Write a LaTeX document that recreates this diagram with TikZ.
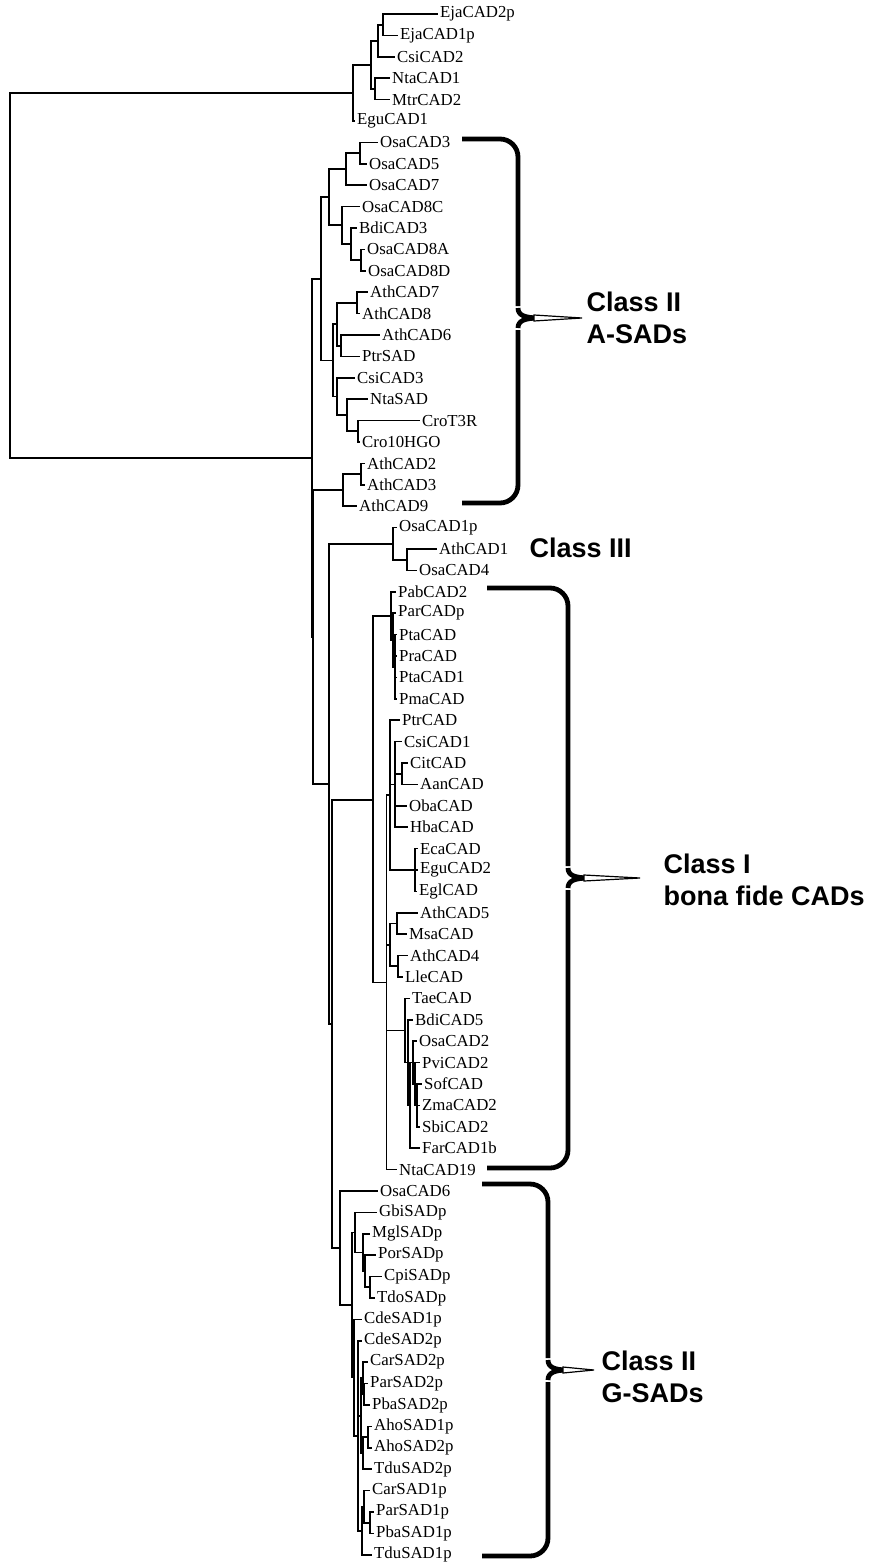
\documentclass[tikz,border=0pt]{standalone}
\usepackage{fontspec}
\setmainfont{Liberation Serif}
\newfontfamily\cladefont{Liberation Sans}
\usetikzlibrary{positioning,calc}

\begin{document}
\begin{tikzpicture}[x=1pt, y=-21.4pt,
    leaf/.style={anchor=west, inner sep=2pt, font=\fontsize{16.8}{18}\selectfont},
    br/.style={line width=1.7pt},
    clade/.style={anchor=west, align=left, font=\cladefont\bfseries\fontsize{27}{32}\selectfont},
    brace/.style={line width=4.8pt},
    tip/.style={fill=white, draw=black, line width=1.2pt}
  ]
  \begin{scope}[y=-1pt, yshift=-7.4pt]
    \useasboundingbox (0,0) rectangle (882,1565);
  \end{scope}

  % leaves
  \node[leaf] (l1) at (438,1) {EjaCAD2p};
  \node[leaf] (l2) at (398,2) {EjaCAD1p};
  \node[leaf] (l3) at (395,3) {CsiCAD2};
  \node[leaf] (l4) at (390,4) {NtaCAD1};
  \node[leaf] (l5) at (390,5) {MtrCAD2};
  \node[leaf] (l6) at (355,6) {EguCAD1};
  \node[leaf] (l7) at (378,7) {OsaCAD3};
  \node[leaf] (l8) at (367,8) {OsaCAD5};
  \node[leaf] (l9) at (367,9) {OsaCAD7};
  \node[leaf] (l10) at (360,10) {OsaCAD8C};
  \node[leaf] (l11) at (357,11) {BdiCAD3};
  \node[leaf] (l12) at (365,12) {OsaCAD8A};
  \node[leaf] (l13) at (366,13) {OsaCAD8D};
  \node[leaf] (l14) at (368,14) {AthCAD7};
  \node[leaf] (l15) at (360,15) {AthCAD8};
  \node[leaf] (l16) at (380,16) {AthCAD6};
  \node[leaf] (l17) at (360,17) {PtrSAD};
  \node[leaf] (l18) at (355,18) {CsiCAD3};
  \node[leaf] (l19) at (368,19) {NtaSAD};
  \node[leaf] (l20) at (420,20) {CroT3R};
  \node[leaf] (l21) at (360,21) {Cro10HGO};
  \node[leaf] (l22) at (365,22) {AthCAD2};
  \node[leaf] (l23) at (365,23) {AthCAD3};
  \node[leaf] (l24) at (357,24) {AthCAD9};
  \node[leaf] (l25) at (397,25) {OsaCAD1p};
  \node[leaf] (l26) at (437,26) {AthCAD1};
  \node[leaf] (l27) at (417,27) {OsaCAD4};
  \node[leaf] (l28) at (396,28) {PabCAD2};
  \node[leaf] (l29) at (396,29) {ParCADp};
  \node[leaf] (l30) at (397,30) {PtaCAD};
  \node[leaf] (l31) at (397,31) {PraCAD};
  \node[leaf] (l32) at (397,32) {PtaCAD1};
  \node[leaf] (l33) at (397,33) {PmaCAD};
  \node[leaf] (l34) at (400,34) {PtrCAD};
  \node[leaf] (l35) at (402,35) {CsiCAD1};
  \node[leaf] (l36) at (408,36) {CitCAD};
  \node[leaf] (l37) at (418,37) {AanCAD};
  \node[leaf] (l38) at (407,38) {ObaCAD};
  \node[leaf] (l39) at (408,39) {HbaCAD};
  \node[leaf] (l40) at (418,40) {EcaCAD};
  \node[leaf] (l41) at (418,41) {EguCAD2};
  \node[leaf] (l42) at (417,42) {EglCAD};
  \node[leaf] (l43) at (418,43) {AthCAD5};
  \node[leaf] (l44) at (407,44) {MsaCAD};
  \node[leaf] (l45) at (408,45) {AthCAD4};
  \node[leaf] (l46) at (403,46) {LleCAD};
  \node[leaf] (l47) at (410,47) {TaeCAD};
  \node[leaf] (l48) at (413,48) {BdiCAD5};
  \node[leaf] (l49) at (417,49) {OsaCAD2};
  \node[leaf] (l50) at (420,50) {PviCAD2};
  \node[leaf] (l51) at (422,51) {SofCAD};
  \node[leaf] (l52) at (420,52) {ZmaCAD2};
  \node[leaf] (l53) at (420,53) {SbiCAD2};
  \node[leaf] (l54) at (420,54) {FarCAD1b};
  \node[leaf] (l55) at (397,55) {NtaCAD19};
  \node[leaf] (l56) at (378,56) {OsaCAD6};
  \node[leaf] (l57) at (377,57) {GbiSADp};
  \node[leaf] (l58) at (370,58) {MglSADp};
  \node[leaf] (l59) at (376,59) {PorSADp};
  \node[leaf] (l60) at (382,60) {CpiSADp};
  \node[leaf] (l61) at (375,61) {TdoSADp};
  \node[leaf] (l62) at (362,62) {CdeSAD1p};
  \node[leaf] (l63) at (362,63) {CdeSAD2p};
  \node[leaf] (l64) at (368,64) {CarSAD2p};
  \node[leaf] (l65) at (368,65) {ParSAD2p};
  \node[leaf] (l66) at (370,66) {PbaSAD2p};
  \node[leaf] (l67) at (372,67) {AhoSAD1p};
  \node[leaf] (l68) at (372,68) {AhoSAD2p};
  \node[leaf] (l69) at (372,69) {TduSAD2p};
  \node[leaf] (l70) at (370,70) {CarSAD1p};
  \node[leaf] (l71) at (374,71) {ParSAD1p};
  \node[leaf] (l72) at (374,72) {PbaSAD1p};
  \node[leaf] (l73) at (372,73) {TduSAD1p};

  % inner nodes
  \coordinate (E) at (383,1.5);
  \coordinate (C) at (378,2.25);
  \coordinate (D) at (375,4.5);
  \coordinate (B) at (371,3.375);
  \coordinate (A) at (353,4.6875);
  \coordinate (F) at (360,7.5);
  \coordinate (G) at (346,8.25);
  \coordinate (H) at (361,12.5);
  \coordinate (I) at (351,11.75);
  \coordinate (J) at (342,10.875);
  \coordinate (K) at (329,9.5625);
  \coordinate (T) at (357,14.5);
  \coordinate (R) at (341,16.5);
  \coordinate (S) at (337,15.5);
  \coordinate (U) at (358,20.5);
  \coordinate (V) at (347,19.75);
  \coordinate (Q) at (337,18.875);
  \coordinate (W) at (333,17.1875);
  \coordinate (L) at (321,13.375);
  \coordinate (Y1) at (361,22.5);
  \coordinate (Y) at (343,23.25);
  \coordinate (III2) at (407,26.5);
  \coordinate (III) at (393,25.75);
  \coordinate (P3) at (395,31.5);
  \coordinate (P2) at (393,30.25);
  \coordinate (P1) at (391,29.125);
  \coordinate (Cit) at (402,36.5);
  \coordinate (X1) at (395,37);
  \coordinate (Euc) at (415,41);
  \coordinate (D2) at (390,37.5);
  \coordinate (Da) at (397,43.5);
  \coordinate (Db) at (398,45.5);
  \coordinate (D3) at (390,44.5);
  \coordinate (Mz) at (417,52);
  \coordinate (Mp) at (415,51);
  \coordinate (Mo) at (413,50);
  \coordinate (Mf) at (410,52);
  \coordinate (Mb) at (408,50);
  \coordinate (M1) at (405,48.5);
  \coordinate (A1) at (386.5,46.25);
  \coordinate (CI) at (373,37.74);
  \coordinate (Gc) at (370,60.5);
  \coordinate (Gp) at (365,59.75);
  \coordinate (Gm) at (363,58.875);
  \coordinate (GA) at (355,57.94);
  \coordinate (G5) at (368,67.5);
  \coordinate (G6) at (363,68.25);
  \coordinate (G4) at (364,65.5);
  \coordinate (G3) at (363,64.75);
  \coordinate (G7) at (361,66.5);
  \coordinate (G9) at (370,71.5);
  \coordinate (G10) at (364,70.75);
  \coordinate (G11) at (362,71.875);
  \coordinate (GBb) at (358,67.44);
  \coordinate (GB) at (354,64.72);
  \coordinate (G2) at (352,61.33);
  \coordinate (GS) at (340,58.67);
  \coordinate (N2) at (332,48.2);
  \coordinate (N) at (329,36.98);
  \coordinate (Z2) at (313,30.11);
  \coordinate (Z) at (312,21.74);
  \coordinate (R0) at (10,13.21);

  % branches
  \draw[br] (R0) |- (A) (R0) |- (Z);
  \draw[br] (A) |- (B) (A) |- (l6.west);
  \draw[br] (B) |- (C) (B) |- (D);
  \draw[br] (C) |- (E) (C) |- (l3.west);
  \draw[br] (E) |- (l1.west) (E) |- (l2.west);
  \draw[br] (D) |- (l4.west) (D) |- (l5.west);

  \draw[br] (Z) |- (L) (Z) |- (Z2);
  \draw[br] (L) |- (K) (L) |- (W);
  \draw[br] (K) |- (G) (K) |- (J);
  \draw[br] (G) |- (F) (G) |- (l9.west);
  \draw[br] (F) |- (l7.west) (F) |- (l8.west);
  \draw[br] (J) |- (l10.west) (J) |- (I);
  \draw[br] (I) |- (l11.west) (I) |- (H);
  \draw[br] (H) |- (l12.west) (H) |- (l13.west);
  \draw[br] (W) |- (S) (W) |- (Q);
  \draw[br] (S) |- (T) (S) |- (R);
  \draw[br] (T) |- (l14.west) (T) |- (l15.west);
  \draw[br] (R) |- (l16.west) (R) |- (l17.west);
  \draw[br] (Q) |- (l18.west) (Q) |- (V);
  \draw[br] (V) |- (l19.west) (V) |- (U);
  \draw[br] (U) |- (l20.west) (U) |- (l21.west);

  \draw[br] (Z2) |- (Y) (Z2) |- (N);
  \draw[br] (Y) |- (Y1) (Y) |- (l24.west);
  \draw[br] (Y1) |- (l22.west) (Y1) |- (l23.west);
  \draw[br] (N) |- (III) (N) |- (N2);
  \draw[br] (III) |- (l25.west) (III) |- (III2);
  \draw[br] (III2) |- (l26.west) (III2) |- (l27.west);

  \draw[br] (N2) |- (CI) (N2) |- (GS);
  \draw[br] (CI) |- (P1) (CI) |- (A1);
  \draw[br] (P1) |- (l28.west) (P1) |- (P2);
  \draw[br] (P2) |- (l29.west) (P2) |- (P3);
  \draw[br] (P3) |- (l30.west) (P3) |- (l31.west) (P3) |- (l32.west) (P3) |- (l33.west);
  \draw[br] (A1) |- (D2) (A1) |- (D3) (A1) |- (M1) (A1) |- (l55.west);
  \draw[br] (D2) |- (l34.west) (D2) |- (X1) (D2) |- (Euc);
  \draw[br] (X1) |- (l35.west) (X1) |- (Cit) (X1) |- (l38.west) (X1) |- (l39.west);
  \draw[br] (Cit) |- (l36.west) (Cit) |- (l37.west);
  \draw[br] (Euc) |- (l40.west) (Euc) |- (l41.west) (Euc) |- (l42.west);
  \draw[br] (D3) |- (Da) (D3) |- (Db);
  \draw[br] (Da) |- (l43.west) (Da) |- (l44.west);
  \draw[br] (Db) |- (l45.west) (Db) |- (l46.west);
  \draw[br] (M1) |- (l47.west) (M1) |- (Mb);
  \draw[br] (Mb) |- (l48.west) (Mb) |- (Mf);
  \draw[br] (Mf) |- (Mo) (Mf) |- (l54.west);
  \draw[br] (Mo) |- (l49.west) (Mo) |- (Mp);
  \draw[br] (Mp) |- (l50.west) (Mp) |- (Mz);
  \draw[br] (Mz) |- (l51.west) (Mz) |- (l52.west) (Mz) |- (l53.west);

  \draw[br] (GS) |- (l56.west) (GS) |- (G2);
  \draw[br] (G2) |- (GA) (G2) |- (GB);
  \draw[br] (GA) |- (l57.west) (GA) |- (Gm);
  \draw[br] (Gm) |- (l58.west) (Gm) |- (Gp);
  \draw[br] (Gp) |- (l59.west) (Gp) |- (Gc);
  \draw[br] (Gc) |- (l60.west) (Gc) |- (l61.west);
  \draw[br] (GB) |- (l62.west) (GB) |- (GBb);
  \draw[br] (GBb) |- (l63.west) (GBb) |- (G7) (GBb) |- (G11);
  \draw[br] (G7) |- (G3) (G7) |- (G6);
  \draw[br] (G3) |- (l64.west) (G3) |- (G4);
  \draw[br] (G4) |- (l65.west) (G4) |- (l66.west);
  \draw[br] (G6) |- (G5) (G6) |- (l69.west);
  \draw[br] (G5) |- (l67.west) (G5) |- (l68.west);
  \draw[br] (G11) |- (G10) (G11) |- (l73.west);
  \draw[br] (G10) |- (l70.west) (G10) |- (G9);
  \draw[br] (G9) |- (l71.west) (G9) |- (l72.west);

  % braces and class names
  \begin{scope}[y=-1pt, yshift=-7.4pt]
    \draw[brace, rounded corners=18pt] (462,139) -- (518,139) -- (518,306);
    \draw[brace, rounded corners=18pt] (462,503) -- (518,503) -- (518,330);
    \draw[brace] (518,308) .. controls (518,315) and (524,318) .. (540,318);
    \draw[brace] (518,328) .. controls (518,321) and (524,318) .. (540,318);
    \filldraw[tip] (534,315) -- (582,318) -- (534,321) -- cycle;
    \node[clade] (asad) at (583,318) {Class II\\A-SADs};

    \node[clade] (c3) at (526,548) {Class III};

    \draw[brace, rounded corners=18pt] (487,588) -- (568,588) -- (568,866);
    \draw[brace, rounded corners=18pt] (487,1168) -- (568,1168) -- (568,890);
    \draw[brace] (568,868) .. controls (568,875) and (574,878) .. (590,878);
    \draw[brace] (568,888) .. controls (568,881) and (574,878) .. (590,878);
    \filldraw[tip] (584,875) -- (640,878) -- (584,881) -- cycle;
    \node[clade] (c1) at (660,880) {Class I\\bona fide CADs};

    \draw[brace, rounded corners=18pt] (482,1184) -- (548,1184) -- (548,1358);
    \draw[brace, rounded corners=18pt] (482,1556) -- (548,1556) -- (548,1382);
    \draw[brace] (548,1360) .. controls (548,1367) and (554,1370) .. (568,1370);
    \draw[brace] (548,1380) .. controls (548,1373) and (554,1370) .. (568,1370);
    \filldraw[tip] (563,1367) -- (594,1370) -- (563,1373) -- cycle;
    \node[clade] (gsad) at (598,1377) {Class II\\G-SADs};
  \end{scope}
\end{tikzpicture}
\end{document}
